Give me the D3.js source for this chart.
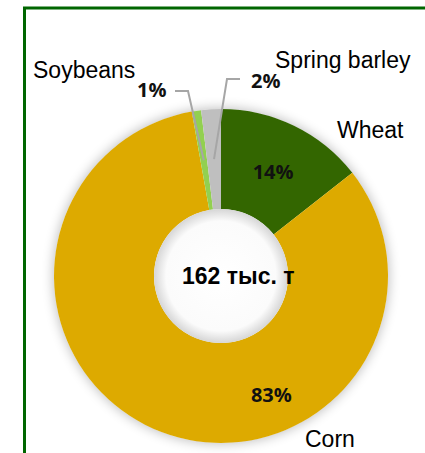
<!DOCTYPE html>
<html><head><meta charset="utf-8">
<script src="https://cdn.jsdelivr.net/npm/d3@7"></script>
<style>html,body{margin:0;padding:0;background:#fff;overflow:hidden}</style>
</head><body>
<script>
const categories = ["Wheat", "Corn", "Soybeans", "Spring barley"];
const shares = [14.4, 82.8, 0.9, 1.9];
const colors = ["#336600", "#DDAA00", "#92D050", "#BFBFBF"];
const centerLabel = "162 тыс. т";

const W = 425, H = 453;
const cx = 221, cy = 276, R = 167, r0 = 67;

const svg = d3.select("body").append("svg").attr("width", W).attr("height", H);
const defs = svg.append("defs");
const f = defs.append("filter").attr("id", "sh").attr("x", "-20%").attr("y", "-20%").attr("width", "140%").attr("height", "140%");
f.append("feGaussianBlur").attr("stdDeviation", 6);
const rg = defs.append("radialGradient").attr("id", "hole");
rg.append("stop").attr("offset", "0%").attr("stop-color", "#ffffff");
rg.append("stop").attr("offset", "82%").attr("stop-color", "#fbfbfb");
rg.append("stop").attr("offset", "100%").attr("stop-color", "#d6d6d6");

// frame
svg.append("rect").attr("x", 24.5).attr("y", 8).attr("width", 440).attr("height", 480)
  .attr("fill", "none").attr("stroke", "#006600").attr("stroke-width", 3);

const g = svg.append("g").attr("transform", `translate(${cx},${cy})`);
g.append("circle").attr("r", R + 1).attr("fill", "#000").attr("opacity", 0.25).attr("filter", "url(#sh)");
g.append("circle").attr("r", R).attr("fill", "#fff");

const pie = d3.pie().sort(null).value(d => d);
const arcs = pie(shares);
const arc = d3.arc().innerRadius(r0).outerRadius(R);
const mid = d3.arc().innerRadius((r0 + R) / 2).outerRadius((r0 + R) / 2);

g.selectAll("path.s").data(arcs).join("path").attr("class", "s")
  .attr("d", arc).attr("fill", (d, i) => colors[i]);

g.append("circle").attr("r", r0).attr("fill", "url(#hole)");

// percent labels
const pct = shares.map(v => Math.round(v) + "%");
const pctStyle = s => s.attr("font-family", "'Open Sans', sans-serif").attr("font-weight", 700)
  .attr("font-size", 20).attr("fill", "#111");
// wheat label at centroid
const cW = mid.centroid(arcs[0]);
pctStyle(g.append("text")).attr("x", cW[0] + 1).attr("y", cW[1] + 3).attr("text-anchor", "middle")
  .attr("dominant-baseline", "middle").text(pct[0]);
// corn label
const aC = 157.4 * Math.PI / 180, rC = 131;
pctStyle(g.append("text")).attr("x", rC * Math.sin(aC)).attr("y", -rC * Math.cos(aC)).attr("text-anchor", "middle")
  .attr("dominant-baseline", "middle").text(pct[1]);

// leader lines for small slices
const leaders = [
  {i: 2, elbow: [-33, -185], end: [-46, -185], tx: -84, ty: -179},
  {i: 3, elbow: [6, -197], end: [19, -197], tx: 30, ty: -188}
];
leaders.forEach(L => {
  const c = mid.centroid(arcs[L.i]);
  g.append("path").attr("d", d3.line()([L.end, L.elbow, c]))
    .attr("fill", "none").attr("stroke", "#a6a6a6").attr("stroke-width", 2);
  pctStyle(g.append("text")).attr("x", L.tx).attr("y", L.ty).text(pct[L.i]);
});

// category labels
const catPos = [[337, 138], [305, 447], [33, 78], [275, 68]];
svg.selectAll("text.cat").data(categories).join("text").attr("class", "cat")
  .attr("x", (d, i) => catPos[i][0]).attr("y", (d, i) => catPos[i][1])
  .attr("font-family", "'Liberation Sans', Arial, sans-serif").attr("font-size", 23)
  .attr("fill", "#000").text(d => d);

svg.append("text").attr("x", 182).attr("y", 284)
  .attr("font-family", "'Liberation Sans', Arial, sans-serif").attr("font-weight", 700)
  .attr("font-size", 23).attr("fill", "#000").text(centerLabel);
</script>
</body></html>
